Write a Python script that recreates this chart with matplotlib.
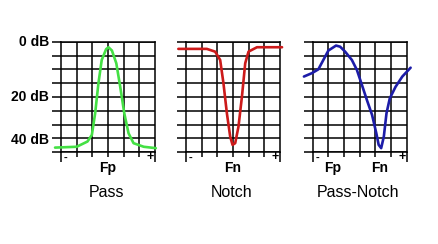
import matplotlib
matplotlib.use("Agg")
import matplotlib.pyplot as plt
from matplotlib.transforms import blended_transform_factory

plt.rcParams['font.family'] = ['Liberation Sans', 'DejaVu Sans']

# x in grid columns (0..6, centre frequency at 3), y in dB (5 dB per grid row)
pass_x = [-0.38, 1.0, 1.69, 1.97, 2.18, 2.39, 2.6, 2.88, 3.03, 3.25, 3.53,
          3.78, 4.04, 4.31, 4.63, 5.28, 6.05]
pass_db = [38.3, 38.0, 36.1, 33.7, 25.9, 15.0, 6.6, 2.7, 2.0, 3.2, 7.8,
           16.3, 25.9, 33.1, 36.7, 38.0, 38.5]

notch_x = [-0.49, 1.33, 1.86, 2.18, 2.39, 2.61, 2.82, 2.97, 3.14, 3.35, 3.57,
           3.78, 3.99, 4.53, 6.13]
notch_db = [2.6, 2.6, 3.6, 6.6, 15.0, 25.9, 34.3, 37.3, 36.7, 30.7, 19.9,
            7.8, 3.6, 2.0, 2.0]

pn_x = [-0.56, -0.06, 0.36, 0.68, 1.0, 1.49, 1.75, 2.07, 2.5, 2.82, 3.14,
        3.46, 3.79, 4.06, 4.21, 4.37, 4.54, 4.71, 4.92, 5.29, 5.72, 6.25]
pn_db = [12.6, 11.4, 10.0, 6.6, 3.2, 1.4, 1.8, 3.6, 6.6, 10.2, 15.6,
         21.1, 26.5, 33.1, 37.3, 38.5, 34.3, 25.9, 20.5, 16.3, 12.6, 9.4]

titles = ["Pass", "Notch", "Pass-Notch"]
freq_labels = [[(3.0, "Fp")], [(3.0, "Fn")], [(1.3, "Fp"), (4.25, "Fn")]]
db_ticks = [0, 20, 35.7]
db_labels = ["0 dB", "20 dB", "40 dB"]

series = [(pass_x, pass_db, "#44e044"),
          (notch_x, notch_db, "#cc1a1a"),
          (pn_x, pn_db, "#1c1ca8")]

fig = plt.figure(figsize=(4.39, 2.44), dpi=100)
lefts = [61, 186, 312.7]
W, H = 439.0, 244.0

for i, (xs, ys, col) in enumerate(series):
    ax = fig.add_axes([lefts[i] / W, (H - 152.3) / H, 94 / W, 110.6 / H])
    ax.set_xlim(0, 6)
    ax.set_ylim(40, 0)
    ax.set_xticks([1, 2, 3, 4, 5])
    ax.set_xticks([0, 6], minor=True)
    ax.set_yticks(range(0, 41, 5))
    ax.set_xticklabels([])
    ax.set_yticklabels([])
    ax.tick_params(axis='x', which='major', length=3.8, width=1.1, color='black')
    ax.tick_params(axis='x', which='minor', length=7, width=1.1, color='black')
    ax.tick_params(axis='y', which='major', length=6.5, width=1.1, color='black')
    ax.grid(True, which='major', color='black', linewidth=1.1)
    for s in ax.spines.values():
        s.set_linewidth(1.1)
        s.set_color('black')
    ax.plot(xs, ys, color=col, linewidth=1.9, clip_on=False, zorder=5,
            solid_capstyle='round', solid_joinstyle='round')

    tr = blended_transform_factory(ax.transData, ax.transAxes)
    ax.text(0.3, -0.055, "-", transform=tr, ha='center', va='center',
            fontsize=8, fontweight='bold')
    ax.text(5.7, -0.045, "+", transform=tr, ha='center', va='center',
            fontsize=9, fontweight='bold')
    for fx, lab in freq_labels[i]:
        ax.text(fx, -0.145, lab, transform=tr, ha='center', va='center',
                fontsize=10, fontweight='bold')
    ax.text(0.48, -0.36, titles[i], transform=ax.transAxes, ha='center',
            va='center', fontsize=11.5)

    if i == 0:
        tr2 = blended_transform_factory(ax.transAxes, ax.transData)
        for v, lab in zip(db_ticks, db_labels):
            ax.text(-0.128, v, lab, transform=tr2, ha='right', va='center',
                    fontsize=10, fontweight='bold')

fig.savefig("out.png", dpi=100)
